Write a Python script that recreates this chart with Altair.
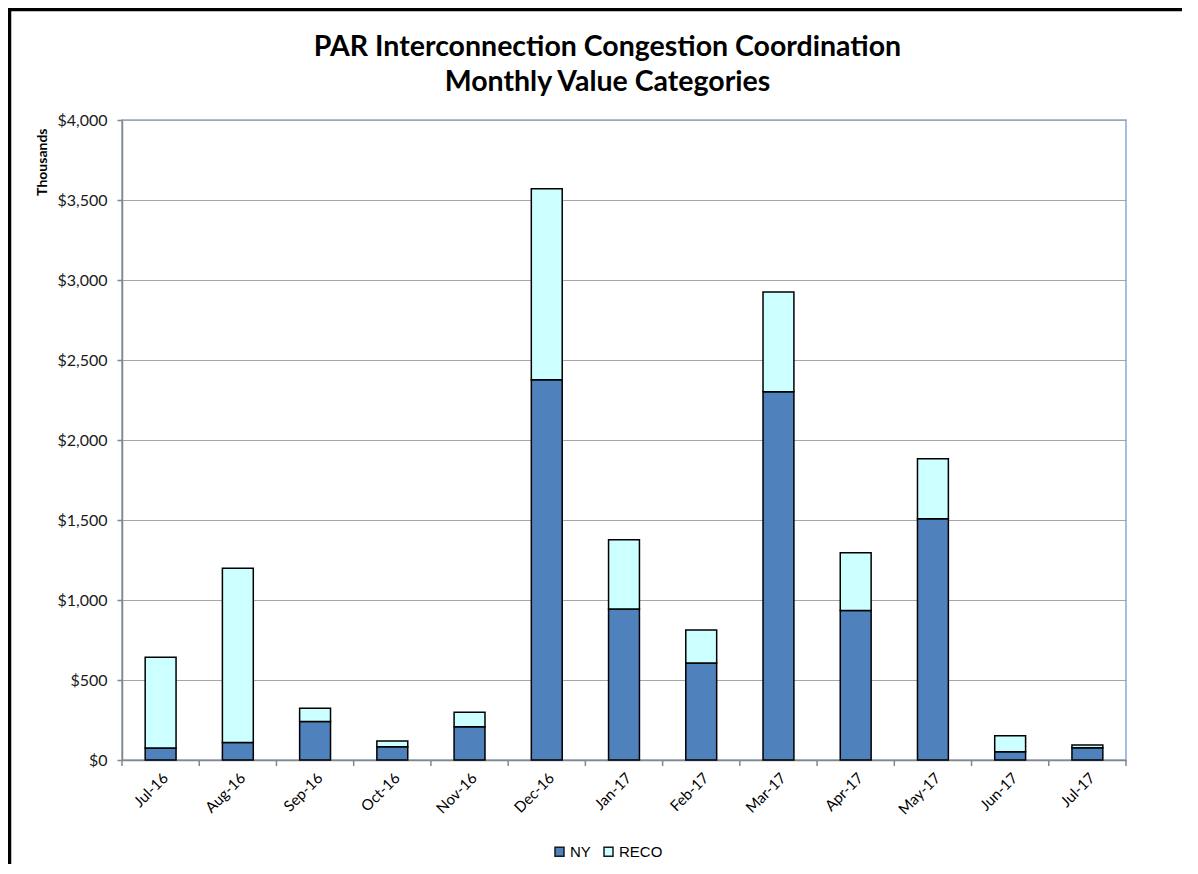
import altair as alt
import pandas as pd

months = ["Jul-16", "Aug-16", "Sep-16", "Oct-16", "Nov-16", "Dec-16", "Jan-17",
          "Feb-17", "Mar-17", "Apr-17", "May-17", "Jun-17", "Jul-17"]
ny = [75, 110, 240, 83, 208, 2377, 944, 606, 2302, 935, 1508, 52, 77]
reco = [567, 1088, 83, 36, 90, 1194, 433, 206, 623, 361, 375, 100, 17]
series = ["NY", "RECO"]
colors = ["#4F81BD", "#CCFFFF"]
y_ticks = [0, 500, 1000, 1500, 2000, 2500, 3000, 3500, 4000]
title_lines = ["PAR Interconnection Congestion Coordination", "Monthly Value Categories"]

rows = []
for i, m in enumerate(months):
    rows.append({"month": m, "series": "NY", "value": ny[i], "order": 0})
    rows.append({"month": m, "series": "RECO", "value": reco[i], "order": 1})
df = pd.DataFrame(rows)
month_df = pd.DataFrame({"month": months})
one = pd.DataFrame({"a": [0]})

W, H = 1004, 640
step = W / len(months)

xscale = alt.Scale(domain=months, paddingInner=0.6, paddingOuter=0.3)

bars = alt.Chart(df).mark_bar(stroke="black", strokeWidth=1.5).encode(
    x=alt.X("month:N", sort=months, scale=xscale, title=None,
            axis=alt.Axis(labelAngle=-45, ticks=False, labelFont="Lato",
                          labelFontSize=15, labelColor="#000000", labelPadding=10,
                          domainColor="#868686", domainWidth=1.5, grid=False)),
    y=alt.Y("value:Q", stack="zero", scale=alt.Scale(domain=[0, 4000], nice=False),
            title="Thousands",
            axis=alt.Axis(values=y_ticks, format="$,.0f", labelFont="Lato",
                          labelFontSize=16, labelColor="#1a1a1a", labelPadding=10,
                          tickSize=5, tickColor="#868686", tickWidth=1.5,
                          domainColor="#868686", domainWidth=1.5,
                          grid=True, gridColor="#A6A6A6", gridWidth=1.2,
                          titleFont="Lato", titleFontSize=14, titleFontWeight="bold",
                          titleColor="#000000", titleAnchor="end", titleAlign="right",
                          titleBaseline="middle", titleX=-80, titleY=8, titleAngle=270)),
    color=alt.Color("series:N", scale=alt.Scale(domain=series, range=colors),
                    legend=alt.Legend(title=None, orient="none", legendX=430, legendY=724,
                                      direction="horizontal", symbolType="square",
                                      symbolSize=81, symbolStrokeColor="#1a1a1a",
                                      symbolStrokeWidth=1.5, labelFont="Liberation Sans",
                                      labelFontSize=15, labelColor="#000000",
                                      labelOffset=3, columnPadding=10)),
    order=alt.Order("order:Q"),
)

xticks = alt.Chart(month_df).mark_rule(color="#868686", strokeWidth=1.5,
                                       xOffset=-0.3 * step).encode(
    x=alt.X("month:N", sort=months, scale=xscale, bandPosition=0),
    y=alt.value(H),
    y2=alt.value(H + 6),
)
last_tick = alt.Chart(one).mark_rule(color="#868686", strokeWidth=1.5).encode(
    x=alt.value(W), y=alt.value(H), y2=alt.value(H + 6)
)

title = alt.Chart(one).mark_text(
    text=title_lines, font="Lato", fontSize=28.5, fontWeight="bold", color="#000000",
    align="center", baseline="alphabetic", lineHeight=35,
).encode(x=alt.value(485.5), y=alt.value(-64))

border_top = alt.Chart(one).mark_rule(color="black", strokeWidth=3.5).encode(
    x=alt.value(-114), x2=alt.value(1200), y=alt.value(-110.5)
)
border_left = alt.Chart(one).mark_rule(color="black", strokeWidth=3.5).encode(
    x=alt.value(-112.5), y=alt.value(-112), y2=alt.value(800)
)

chart = alt.layer(bars, xticks, last_tick, title, border_top, border_left).properties(
    width=W, height=H,
    autosize=alt.AutoSizeParams(type="none"),
    padding={"left": 114, "top": 112, "right": 56, "bottom": 104},
).configure_view(stroke="#86A8DA", strokeWidth=1.5)

chart.save("out.html", embed_options={"renderer": "svg", "actions": False})
